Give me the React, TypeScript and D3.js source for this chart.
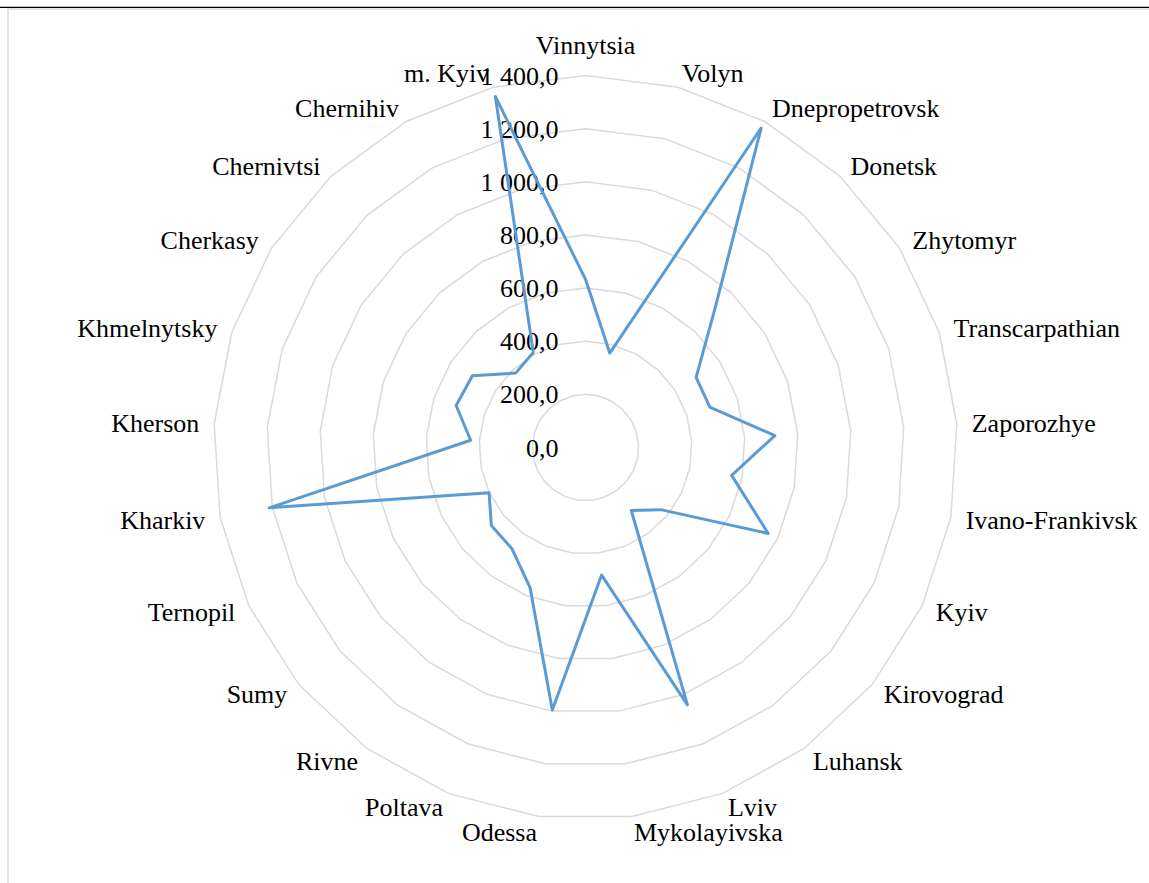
import React, {Component} from 'react';
import * as d3 from "d3"

// region names, clockwise from the top
const regions = [
  "Vinnytsia", "Volyn", "Dnepropetrovsk", "Donetsk", "Zhytomyr", "Transcarpathian",
  "Zaporozhye", "Ivano-Frankivsk", "Kyiv", "Kirovograd", "Luhansk", "Lviv",
  "Mykolayivska", "Odessa", "Poltava", "Rivne", "Sumy", "Ternopil", "Kharkiv",
  "Kherson", "Khmelnytsky", "Cherkasy", "Chernivtsi", "Chernihiv", "m. Kyiv"
]
const values = [
  633, 367, 1372, 710, 493, 492,
  714, 560, 760, 367, 293, 1042,
  484, 996, 567, 471, 460, 401, 1212,
  433, 512, 504, 384, 408, 1364
]
const ticks = [0, 200, 400, 600, 800, 1000, 1200, 1400]
const tickLabels = ["0,0", "200,0", "400,0", "600,0", "800,0", "1 000,0", "1 200,0", "1 400,0"]

const W = 1149
const H = 883

interface RadarProps {}

class Radar extends Component<RadarProps> {
  renderRadar() {
    const cx = 585.5
    const cy = 447.5
    const n = regions.length
    const r = d3.scaleLinear().domain([0, 1400]).range([0, 372])
    const angle = (i: number) => (i / n) * Math.PI * 2
    const font = "'Liberation Serif', 'Times New Roman', serif"

    const svg = d3.select("#radar")
      .append("svg")
      .attr("width", W)
      .attr("height", H)
      .style("position", "absolute")
      .style("left", 0)
      .style("top", 0)
      .style("font-family", font)

    svg.append("rect").attr("width", W).attr("height", H).attr("fill", "#fff")

    // frame of the chart area
    svg.append("line")
      .attr("x1", 0).attr("x2", W).attr("y1", 7.3).attr("y2", 7.3)
      .attr("stroke", "#000").attr("stroke-width", 1.3)
    svg.append("path")
      .attr("d", `M8,${H}V9H${W}`)
      .attr("fill", "none").attr("stroke", "#d9d9d9").attr("stroke-width", 1.5)

    const g = svg.append("g").attr("transform", `translate(${cx},${cy})`)

    // grid rings
    const ring = d3.lineRadial<number>()
      .angle((_, i) => angle(i))
      .radius(d => d)
      .curve(d3.curveLinearClosed)
    g.selectAll("path.grid")
      .data(ticks.filter(t => t > 0))
      .join("path")
      .attr("class", "grid")
      .attr("d", t => ring(d3.range(n).map(() => r(t))) as string)
      .attr("fill", "none")
      .attr("stroke", "#d9d9d9")
      .attr("stroke-width", 1.5)

    // axis tick labels
    g.selectAll("text.tick")
      .data(ticks)
      .join("text")
      .attr("class", "tick")
      .attr("x", -27)
      .attr("y", t => -r(t))
      .attr("dy", "0.35em")
      .attr("text-anchor", "end")
      .attr("font-size", 26)
      .attr("fill", "#000")
      .text((_, i) => tickLabels[i])

    // series
    const line = d3.lineRadial<number>()
      .angle((_, i) => angle(i))
      .radius(d => r(d))
      .curve(d3.curveLinearClosed)
    g.append("path")
      .attr("d", line(values) as string)
      .attr("fill", "none")
      .attr("stroke", "#5b9bd5")
      .attr("stroke-width", 3)
      .attr("stroke-linejoin", "round")

    // category labels
    const outer = r(1400) + 15
    g.selectAll("text.cat")
      .data(regions)
      .join("text")
      .attr("class", "cat")
      .attr("font-size", 26)
      .attr("fill", "#000")
      .each(function (d, i) {
        const a = angle(i)
        const s = Math.sin(a)
        const c = Math.cos(a)
        const x = outer * s
        const y = -outer * c
        const t = d3.select(this)
        if (Math.abs(s) < 0.05) {
          t.attr("text-anchor", "middle").attr("x", x).attr("y", y - 6.5)
        } else {
          t.attr("text-anchor", s > 0 ? "start" : "end").attr("x", x).attr("y", y).attr("dy", "0.35em")
        }
        t.text(d)
      })
  }

  componentDidMount() {
    if (!document.querySelector("#radar svg")) this.renderRadar()
  }

  public render(): JSX.Element {
    return <div id="radar" style={{width: W, height: H}}></div>
  }
}

export default function App() {
  return <Radar />
}
